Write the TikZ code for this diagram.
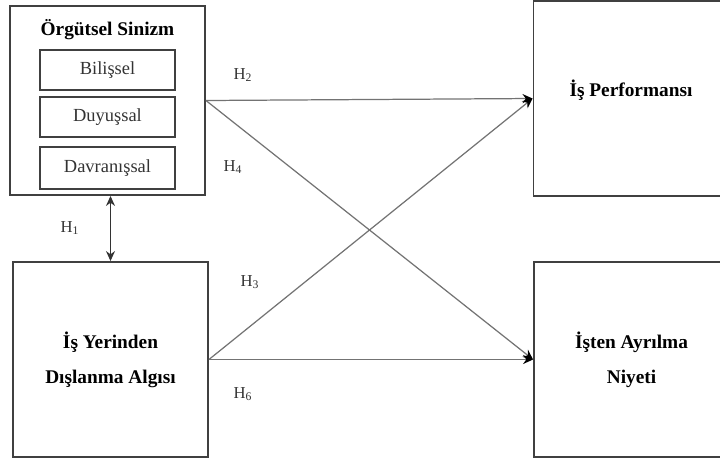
\documentclass[tikz,border=0pt]{standalone}
\usepackage{fontspec}
\setmainfont{Liberation Serif}
\usetikzlibrary{positioning,arrows.meta,calc}

\begin{document}
\begin{tikzpicture}[
  x=0.02cm, y=-0.02cm,
  bigbox/.style={rectangle, draw=black!75, line width=1.1pt, minimum width=3.9cm, minimum height=3.9cm, align=center, font=\bfseries\fontsize{11}{13}\selectfont},
  title/.style={font=\bfseries\fontsize{11}{13}\selectfont},
  subbox/.style={rectangle, draw=black!75, line width=1pt, minimum width=2.7cm, minimum height=0.8cm, font=\fontsize{10.5}{12}\selectfont, text=black!80},
  hyp/.style={font=\fontsize{9.5}{11}\selectfont, text=black!80},
  arrow/.style={-{Stealth[length=2mm, width=1.8mm, color=black]}, draw=black!55, line width=0.7pt},
]

\useasboundingbox (0,0) rectangle (720,461);

% === Örgütsel Sinizm (top-left) ===
\node[bigbox, minimum height=3.78cm] (sinizm) at (107.5,100.5) {};
\node[title] (sinizmT) at (107.5,30) {Örgütsel Sinizm};
\node[subbox] (bilissel) at (107.5,70) {Bilişsel};
\node[subbox] (duyussal) at (107.5,117) {Duyuşsal};
\node[subbox, minimum height=0.84cm] (davranissal) at (107.5,168) {Davranışsal};

% === İş Yerinden Dışlanma Algısı (bottom-left) ===
\node[bigbox] (dislanma) at (110.5,359.5) {İş Yerinden\\[7pt]Dışlanma Algısı};

% === İş Performansı (top-right) ===
\node[bigbox] (performans) at (631,98.5) {};
\node[title] (performansT) at (631,90) {İş Performansı};

% === İşten Ayrılma Niyeti (bottom-right) ===
\node[bigbox] (ayrilma) at (631.5,359.5) {İşten Ayrılma\\[7pt]Niyeti};

% === Paths ===
\draw[{Stealth[length=2mm, width=1.8mm]}-{Stealth[length=2mm, width=1.8mm]}, draw=black!80, line width=0.7pt]
  (sinizm.south -| dislanma.north) -- (dislanma.north);
\draw[arrow] (sinizm.east) -- (performans.west);
\draw[arrow] (sinizm.east) -- (ayrilma.west);
\draw[arrow] (dislanma.east) -- (performans.west);
\draw[arrow] (dislanma.east) -- (ayrilma.west);

% === Hypothesis labels ===
\node[hyp] (h1) at (70,228) {H\textsubscript{1}};
\node[hyp] (h2) at (243,75) {H\textsubscript{2}};
\node[hyp] (h4) at (233,167) {H\textsubscript{4}};
\node[hyp] (h3) at (250,282) {H\textsubscript{3}};
\node[hyp] (h6) at (243,394) {H\textsubscript{6}};

\end{tikzpicture}
\end{document}
